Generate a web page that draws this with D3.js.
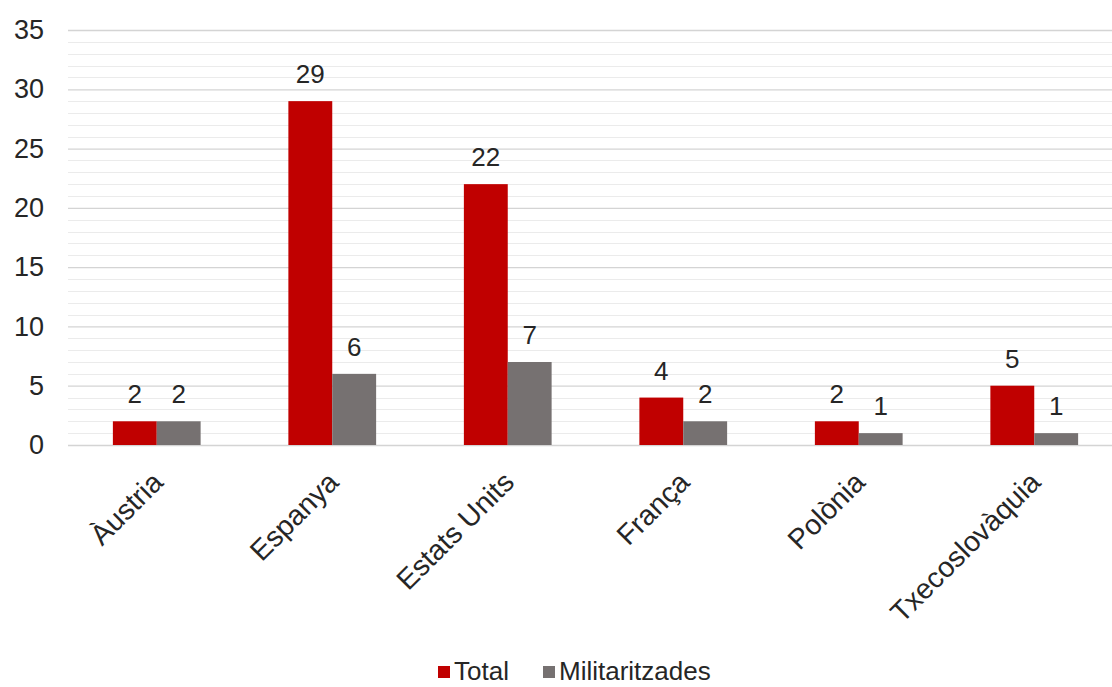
<!DOCTYPE html>
<html>
<head>
<meta charset="utf-8">
<script src="https://cdn.jsdelivr.net/npm/d3@7/dist/d3.min.js"></script>
<style>
  html, body { margin: 0; padding: 0; background: #ffffff; }
  svg { display: block; }
  text { font-family: "Liberation Sans", Arial, sans-serif; fill: #262626; }
</style>
</head>
<body>
<svg id="chart" width="1112" height="687"></svg>
<script>
// Countries and counts
const categories = ["Àustria", "Espanya", "Estats Units", "França", "Polònia", "Txecoslovàquia"];
const seriesNames = ["Total", "Militaritzades"];
const totalValues = [2, 29, 22, 4, 2, 5];
const militaritzadesValues = [2, 6, 7, 2, 1, 1];
const yTicks = [0, 5, 10, 15, 20, 25, 30, 35];
const seriesColors = ["#C00000", "#767171"];

const rows = categories.map((c, i) => ({
  category: c,
  values: [
    { key: seriesNames[0], value: totalValues[i] },
    { key: seriesNames[1], value: militaritzadesValues[i] }
  ]
}));

const svg = d3.select("#chart");
const margin = { left: 69, right: -10, top: 30, bottom: 242 };
const W = 1112, H = 687;
const x0 = margin.left, x1 = W - margin.right;
const yTop = margin.top, yBottom = H - margin.bottom;

const x = d3.scaleBand().domain(categories).range([x0, x1]).paddingInner(0.5).paddingOuter(0.25);
const xs = d3.scaleBand().domain(seriesNames).range([0, x.bandwidth()]);
const y = d3.scaleLinear().domain([0, 35]).range([yBottom, yTop]);
const color = d3.scaleOrdinal().domain(seriesNames).range(seriesColors);

// Minor gridlines every unit
svg.append("g")
  .selectAll("line")
  .data(d3.range(1, 35).filter(v => v % 5 !== 0))
  .join("line")
  .attr("x1", 68).attr("x2", W)
  .attr("y1", d => Math.round(y(d)) + 0.5).attr("y2", d => Math.round(y(d)) + 0.5)
  .attr("stroke", "#ebebeb").attr("stroke-width", 1);

// Major gridlines and y tick labels
const yAxis = d3.axisLeft(y).tickValues(yTicks).tickSize(-(W - 68)).tickPadding(24);
const yg = svg.append("g").attr("transform", "translate(68,0)").call(yAxis);
yg.select(".domain").remove();
yg.selectAll(".tick line").attr("stroke", "#d4d4d4").attr("stroke-width", 1.3);
yg.selectAll(".tick text")
  .attr("x", -24)
  .style("font-size", "27px")
  .style("font-family", "'Liberation Sans', Arial, sans-serif")
  .attr("fill", "#262626");

// Bars
const groups = svg.append("g")
  .selectAll("g")
  .data(rows)
  .join("g")
  .attr("transform", d => `translate(${x(d.category)},0)`);

groups.selectAll("rect")
  .data(d => d.values)
  .join("rect")
  .attr("x", d => xs(d.key))
  .attr("width", xs.bandwidth())
  .attr("y", d => y(d.value))
  .attr("height", d => y(0) - y(d.value))
  .attr("fill", d => color(d.key));

// Value labels
groups.selectAll("text.val")
  .data(d => d.values)
  .join("text")
  .attr("class", "val")
  .attr("x", d => xs(d.key) + xs.bandwidth() / 2)
  .attr("y", d => y(d.value) - 18)
  .attr("text-anchor", "middle")
  .style("font-size", "26px")
  .text(d => d.value);

// Category labels, rotated
const xAxis = d3.axisBottom(x).tickSize(0).tickPadding(0);
const xg = svg.append("g").attr("transform", `translate(0,${yBottom})`).call(xAxis);
xg.select(".domain").remove();
xg.selectAll(".tick text")
  .attr("text-anchor", "end")
  .attr("transform", "translate(8,39) rotate(-45)")
  .attr("dy", 0).attr("y", 0)
  .style("font-size", "28.5px")
  .style("font-family", "'Liberation Sans', Arial, sans-serif")
  .attr("fill", "#262626");

// Legend
const legendItems = [
  { key: seriesNames[0], x: 438 },
  { key: seriesNames[1], x: 543 }
];
const lg = svg.append("g").selectAll("g").data(legendItems).join("g")
  .attr("transform", d => `translate(${d.x},0)`);
lg.append("rect").attr("x", 0).attr("y", 666).attr("width", 12).attr("height", 12)
  .attr("fill", d => color(d.key));
lg.append("text").attr("x", 16).attr("y", 680)
  .style("font-size", "26px")
  .text(d => d.key);
</script>
</body>
</html>
